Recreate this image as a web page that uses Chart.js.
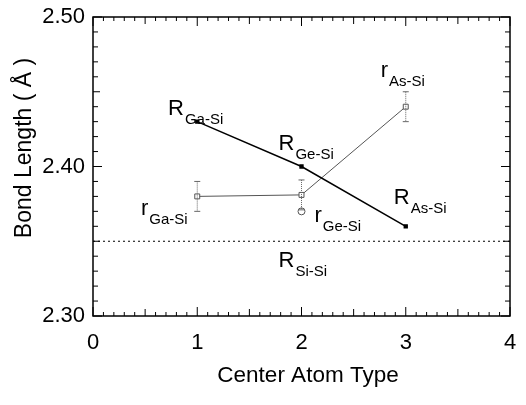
<!DOCTYPE html>
<html>
<head>
<meta charset="utf-8">
<script src="https://cdn.jsdelivr.net/npm/chart.js@4.4.0/dist/chart.umd.min.js"></script>
<style>
  html, body { margin: 0; padding: 0; background: #fff; }
  #wrap { width: 526px; height: 405px; }
</style>
</head>
<body>
<div id="wrap"><canvas id="chart"></canvas></div>
<script>
// Data
const centerTypes = [1, 2, 3];
const bigR = [2.43, 2.40, 2.36];          // R_Ga-Si, R_Ge-Si, R_As-Si
const smallR = [2.38, 2.381, 2.44];       // r_Ga-Si, r_Ge-Si, r_As-Si
const smallRErr = [0.01, 0.01, 0.01];
const extraX = [2];
const extraY = [2.37];                    // open circle under r_Ge-Si
const siSiX = [0, 4];
const siSiY = [2.35, 2.35];               // R_Si-Si reference line
const xTicks = [0, 1, 2, 3, 4];
const yTicks = [2.30, 2.40, 2.50];

// label text: [main letter, subscript, x, y] in data units
const labels = [
    ["R", "Ga-Si", 0.72, 2.4347],
    ["R", "Ge-Si", 1.78, 2.4113],
    ["R", "As-Si", 2.885, 2.3747],
    ["r", "As-Si", 2.76, 2.46],
    ["r", "Ga-Si", 0.46, 2.3673],
    ["r", "Ge-Si", 2.125, 2.3627],
    ["R", "Si-Si", 1.78, 2.3327]
];

const FONT = "'Liberation Sans', Arial, sans-serif";

const decorPlugin = {
    id: "decor",
    afterDatasetsDraw(chart) {
        const ctx = chart.ctx;
        const xs = chart.scales.x, ys = chart.scales.y;
        const a = chart.chartArea;

        // error bars on r series
        ctx.save();
        ctx.strokeStyle = "#666";
        ctx.lineWidth = 1;
        ctx.setLineDash([1, 1]);
        smallR.forEach((v, i) => {
            const px = xs.getPixelForValue(centerTypes[i]);
            const top = ys.getPixelForValue(v + smallRErr[i]);
            const bot = ys.getPixelForValue(v - smallRErr[i]);
            ctx.beginPath();
            ctx.moveTo(px, top); ctx.lineTo(px, bot);
            ctx.stroke();
            ctx.setLineDash([]);
            ctx.beginPath();
            ctx.moveTo(px - 3, top); ctx.lineTo(px + 3, top);
            ctx.moveTo(px - 3, bot); ctx.lineTo(px + 3, bot);
            ctx.stroke();
            ctx.setLineDash([1, 1]);
        });
        ctx.restore();

        // frame
        ctx.save();
        ctx.strokeStyle = "#000";
        ctx.lineWidth = 1.5;
        ctx.strokeRect(a.left, a.top, a.right - a.left, a.bottom - a.top);

        // inward ticks
        ctx.lineWidth = 1;
        ctx.beginPath();
        for (let k = 0; k <= 40; k++) {
            const v = k / 10;
            const px = xs.getPixelForValue(v);
            const len = k % 10 === 0 ? 9 : (k % 5 === 0 ? 7 : 4);
            ctx.moveTo(px, a.bottom); ctx.lineTo(px, a.bottom - len);
            ctx.moveTo(px, a.top); ctx.lineTo(px, a.top + len);
        }
        for (let k = 0; k <= 20; k++) {
            const v = 2.30 + k / 100;
            const py = ys.getPixelForValue(v);
            const len = k % 10 === 0 ? 9 : (k % 5 === 0 ? 7 : 5);
            ctx.moveTo(a.left, py); ctx.lineTo(a.left + len, py);
            ctx.moveTo(a.right, py); ctx.lineTo(a.right - len, py);
        }
        ctx.stroke();
        ctx.restore();

        // text labels
        ctx.save();
        ctx.fillStyle = "#000";
        ctx.textBaseline = "alphabetic";
        ctx.textAlign = "left";
        labels.forEach(([main, sub, x, y]) => {
            const px = xs.getPixelForValue(x);
            const py = ys.getPixelForValue(y);
            ctx.font = "22px " + FONT;
            ctx.fillText(main, px, py);
            const w = ctx.measureText(main).width;
            ctx.font = "15px " + FONT;
            ctx.fillText(sub, px + w + 1, py + 9);
        });

        // axis titles
        ctx.font = "22.5px " + FONT;
        ctx.textAlign = "center";
        ctx.textBaseline = "middle";
        ctx.fillText("Center Atom Type", 308, 376);
        ctx.translate(25, 148);
        ctx.rotate(-Math.PI / 2);
        ctx.font = "23px " + FONT;
        ctx.fillText("Bond Length ( Å )", 0, 0);
        ctx.restore();
    }
};

const toPoints = (xArr, yArr) => xArr.map((x, i) => ({ x: x, y: yArr[i] }));

new Chart(document.getElementById("chart"), {
    type: "line",
    data: {
        datasets: [
            {
                label: "R",
                data: toPoints(centerTypes, bigR),
                borderColor: "#000",
                backgroundColor: "#000",
                borderWidth: 1.5,
                pointStyle: "rect",
                pointRadius: 2,
                tension: 0
            },
            {
                label: "r",
                data: toPoints(centerTypes, smallR),
                borderColor: "#555",
                backgroundColor: "#fff",
                borderWidth: 1,
                pointStyle: "rect",
                pointRadius: 3.5,
                pointBorderWidth: 1,
                tension: 0
            },
            {
                label: "extra",
                data: toPoints(extraX, extraY),
                showLine: false,
                borderColor: "#555",
                backgroundColor: "#fff",
                pointStyle: "circle",
                pointRadius: 3.5,
                pointBorderWidth: 1
            },
            {
                label: "Si-Si",
                data: toPoints(siSiX, siSiY),
                borderColor: "#000",
                borderWidth: 1.2,
                borderDash: [2, 3],
                pointRadius: 0
            }
        ]
    },
    options: {
        responsive: true,
        maintainAspectRatio: false,
        animation: false,
        events: [],
        layout: { padding: { top: 17, right: 16, left: 0, bottom: 0 } },
        plugins: { legend: { display: false }, tooltip: { enabled: false } },
        scales: {
            x: {
                type: "linear",
                min: 0, max: 4,
                afterBuildTicks: s => { s.ticks = xTicks.map(v => ({ value: v })); },
                afterFit: s => { s.height = 89; },
                grid: { display: false },
                border: { display: false },
                ticks: { color: "#000", padding: 6, font: { family: FONT, size: 22 } }
            },
            y: {
                type: "linear",
                min: 2.30, max: 2.50,
                afterBuildTicks: s => { s.ticks = yTicks.map(v => ({ value: v })); },
                afterFit: s => { s.width = 93; },
                grid: { display: false },
                border: { display: false },
                ticks: {
                    color: "#000", padding: 0,
                    font: { family: FONT, size: 22 },
                    callback: v => v.toFixed(2)
                }
            }
        }
    },
    plugins: [decorPlugin]
});
</script>
</body>
</html>
